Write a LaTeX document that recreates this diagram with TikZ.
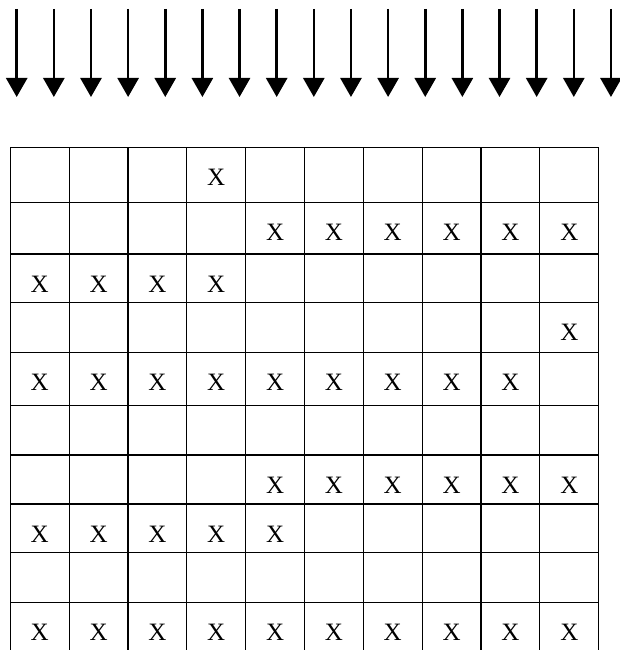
\documentclass[tikz,border=0pt]{standalone}
\usepackage{fontspec}
\setmainfont{Liberation Serif}
\usetikzlibrary{arrows.meta}

\begin{document}
\begin{tikzpicture}[x=1pt, y=-1pt,
    drop/.style={line width=2.6pt, -{Triangle[length=19pt, width=21pt]}},
    gridline/.style={line width=1.2pt},
    markx/.style={anchor=base, inner sep=0pt, font=\fontsize{25}{25}\selectfont},
]
    \useasboundingbox (0,0) rectangle (620,650);

    % Row of arrows on top
    \foreach \k in {0,...,16} {
        \coordinate (top\k) at ({16.7+37.14*\k}, 9);
        \coordinate (tip\k) at ({16.7+37.14*\k}, 97);
        \draw[drop] (top\k) -- (tip\k);
    }

    % Table lines (bottom edge runs off the page)
    \foreach \y in {147.3,202.7,254,302.7,352.7,405.7,455,504,552.7,602.7}
        \draw[gridline] (10.3,\y) -- (598.7,\y);
    \foreach \c in {0,...,10}
        \draw[gridline] ({10.3+58.84*\c},147.3) -- ({10.3+58.84*\c},650);

    % Marked cells: row / top of row / columns
    \foreach \r/\y/\cols in {1/147.3/{4}, 2/202.7/{5,...,10}, 3/254/{1,...,4},
                             4/302.7/{10}, 5/352.7/{1,...,9}, 7/455/{5,...,10},
                             8/504/{1,...,5}, 10/602.7/{1,...,10}}
        \foreach \c in \cols
            \node[markx] (x\r-\c) at ({10.3+58.84*(\c-0.5)}, {\y+38}) {X};
\end{tikzpicture}
\end{document}
